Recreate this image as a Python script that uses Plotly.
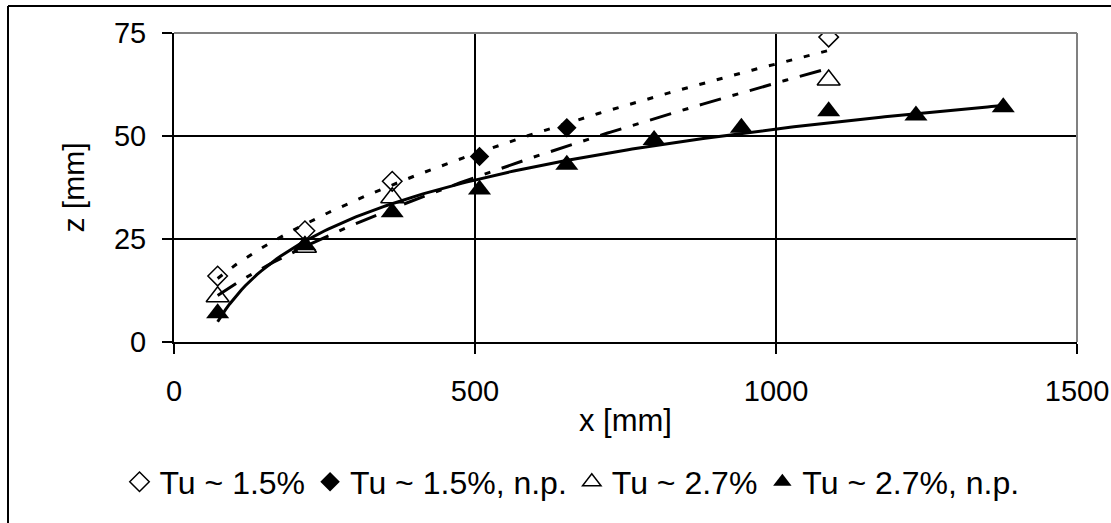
import numpy as np
import plotly.graph_objects as go

# ---- data ----
x_open15 = [72.5, 217.5, 362.5, 1087.5]
z_open15 = [16, 27, 39, 74]
x_np15 = [507.5, 652.5]
z_np15 = [45, 52]
x_open27 = [72.5, 217.5, 362.5, 1087.5]
z_open27 = [11, 23, 35, 63.6]
x_np27 = [72.5, 217.5, 362.5, 507.5, 652.5, 797.5, 942.5, 1087.5, 1232.5, 1377.5]
z_np27 = [7, 23.5, 31.5, 37, 43, 49, 52, 56, 55, 57]

x_ticks = [0, 500, 1000, 1500]
z_ticks = [0, 25, 50, 75]
names = ["Tu ~ 1.5%", "Tu ~ 1.5%, n.p.", "Tu ~ 2.7%", "Tu ~ 2.7%, n.p."]

FONT = "Liberation Sans, Arial, sans-serif"


def power_fit(xs, zs):
    b, a = np.polyfit(np.log(xs), np.log(zs), 1)
    xx = np.linspace(min(xs), max(xs), 200)
    return xx, np.exp(a) * xx ** b


def log_fit(xs, zs):
    b, a = np.polyfit(np.log(xs), zs, 1)
    xx = np.linspace(min(xs), max(xs), 200)
    return xx, a + b * np.log(xx)


fig = go.Figure()

# markers
fig.add_trace(go.Scatter(x=x_open15, y=z_open15, mode="markers", name=names[0],
                         marker=dict(symbol="diamond-open", size=15, color="black",
                                     line=dict(width=1.5, color="black"))))
fig.add_trace(go.Scatter(x=x_np15, y=z_np15, mode="markers", name=names[1],
                         marker=dict(symbol="diamond", size=15, color="black",
                                     line=dict(width=0))))
fig.add_trace(go.Scatter(x=x_open27, y=z_open27, mode="markers", name=names[2],
                         marker=dict(symbol="triangle-up-open", size=20, color="black",
                                     line=dict(width=1.5, color="black"))))
fig.add_trace(go.Scatter(x=x_np27, y=z_np27, mode="markers", name=names[3],
                         marker=dict(symbol="triangle-up", size=20, color="black",
                                     line=dict(width=0))))

# trend lines (drawn on top like Excel)
tx, tz = power_fit(x_open15 + x_np15, z_open15 + z_np15)
fig.add_trace(go.Scatter(x=tx, y=tz, mode="lines", showlegend=False, hoverinfo="skip",
                         line=dict(color="black", width=3, dash="6px,12px")))
tx, tz = power_fit(x_open27, z_open27)
fig.add_trace(go.Scatter(x=tx, y=tz, mode="lines", showlegend=False, hoverinfo="skip",
                         line=dict(color="black", width=3, dash="22px,12px,6px,12px")))
tx, tz = log_fit(x_np27, z_np27)
fig.add_trace(go.Scatter(x=tx, y=tz, mode="lines", showlegend=False, hoverinfo="skip",
                         line=dict(color="black", width=3)))

W, H = 1111, 523
L, R, T, B = 174, 34, 33, 181
pw, ph = W - L - R, H - T - B


def px_to_paper_x(px):
    return (px - L) / pw


def px_to_paper_y(py):
    return (H - B - py) / ph


shapes = [
    # gray top / right border of plot area
    dict(type="line", xref="paper", yref="paper", x0=0, x1=1, y0=1, y1=1,
         line=dict(color="#808080", width=2)),
    dict(type="line", xref="paper", yref="paper", x0=1, x1=1, y0=0, y1=1,
         line=dict(color="#808080", width=2)),
    # outer chart frame (left and top edges visible)
    dict(type="line", xref="paper", yref="paper", x0=px_to_paper_x(8), x1=px_to_paper_x(1200),
         y0=px_to_paper_y(6), y1=px_to_paper_y(6), line=dict(color="black", width=2)),
    dict(type="line", xref="paper", yref="paper", x0=px_to_paper_x(8), x1=px_to_paper_x(8),
         y0=px_to_paper_y(6), y1=px_to_paper_y(600), line=dict(color="black", width=2)),
]

fig.update_layout(
    width=W, height=H,
    margin=dict(l=L, r=R, t=T, b=B, autoexpand=False),
    paper_bgcolor="white", plot_bgcolor="white",
    font=dict(family=FONT, size=29, color="black"),
    shapes=shapes,
    showlegend=True,
    legend=dict(orientation="h", x=px_to_paper_x(572), xanchor="center",
                y=px_to_paper_y(482), yanchor="middle",
                font=dict(family=FONT, size=32, color="black"),
                bgcolor="rgba(0,0,0,0)", itemsizing="trace"),
    xaxis=dict(range=[0, 1500], tickvals=x_ticks, ticktext=[str(v) for v in x_ticks],
               showgrid=True, gridcolor="black", gridwidth=1.5,
               zeroline=False, showline=True, linecolor="black", linewidth=2,
               ticks="outside", ticklen=10, tickwidth=1.5, tickcolor="black",
               ticklabelstandoff=12,
               title=dict(text="x [mm]", font=dict(family=FONT, size=31), standoff=4),
               automargin=False, fixedrange=True),
    yaxis=dict(range=[0, 75], tickvals=z_ticks, ticktext=[str(v) for v in z_ticks],
               showgrid=True, gridcolor="black", gridwidth=1.5,
               zeroline=False, showline=True, linecolor="black", linewidth=2,
               ticks="outside", ticklen=10, tickwidth=1.5, tickcolor="black",
               ticklabelstandoff=10,
               title=dict(text="z [mm]", font=dict(family=FONT, size=30), standoff=20),
               automargin=False, fixedrange=True),
)

fig.write_html("out.html")
